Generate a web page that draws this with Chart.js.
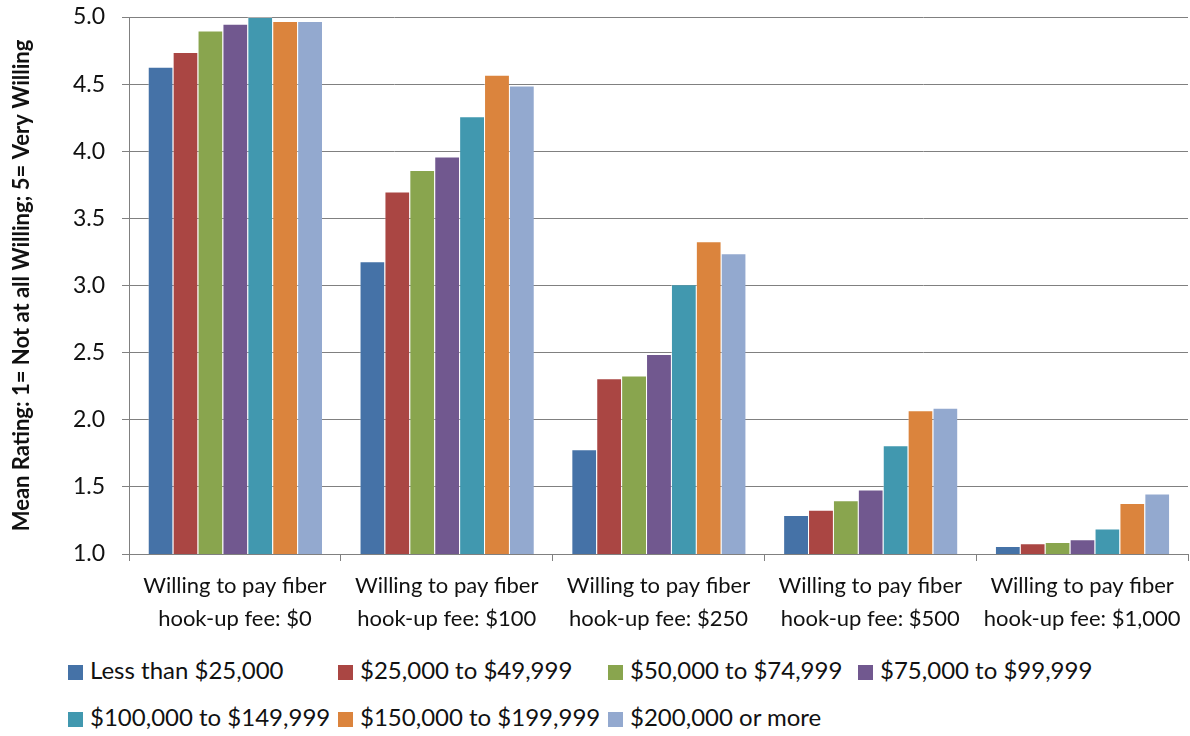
<!DOCTYPE html>
<html>
<head>
<meta charset="utf-8">
<script src="https://cdn.jsdelivr.net/npm/chart.js@4"></script>
<style>
  html, body { margin: 0; padding: 0; background: #fff; }
  #wrap { position: relative; width: 1190px; height: 736px; }
  #chartCanvas { position: absolute; left: 0; top: 0; }
  #legend-div ul { list-style: none; margin: 0; padding: 0; }
  #legend-div li {
    position: absolute; font-family: Lato, sans-serif; font-size: 24px; color: #111;
    white-space: nowrap; line-height: 26px;
  }
  #legend-div li span {
    display: inline-block; width: 15px; height: 15px; margin-right: 7px; vertical-align: -1px;
  }
</style>
</head>
<body>
<div id="wrap">
  <canvas id="chartCanvas" width="1190" height="645"></canvas>
  <div id="legend-div"></div>
</div>
<script>
const categories = [
    ['Willing to pay fiber', 'hook-up fee: $0'],
    ['Willing to pay fiber', 'hook-up fee: $100'],
    ['Willing to pay fiber', 'hook-up fee: $250'],
    ['Willing to pay fiber', 'hook-up fee: $500'],
    ['Willing to pay fiber', 'hook-up fee: $1,000']
];
const incomeGroups = [
    'Less than $25,000', '$25,000 to $49,999', '$50,000 to $74,999', '$75,000 to $99,999',
    '$100,000 to $149,999', '$150,000 to $199,999', '$200,000 or more'
];
const lessThan25k = [4.63, 3.18, 1.78, 1.29, 1.06];
const from25kTo50k = [4.74, 3.70, 2.31, 1.33, 1.08];
const from50kTo75k = [4.90, 3.86, 2.33, 1.40, 1.09];
const from75kTo100k = [4.95, 3.96, 2.49, 1.48, 1.11];
const from100kTo150k = [5.00, 4.26, 3.01, 1.81, 1.19];
const from150kTo200k = [4.97, 4.57, 3.33, 2.07, 1.38];
const from200kUp = [4.97, 4.49, 3.24, 2.09, 1.45];
const yTicks = [1.0, 1.5, 2.0, 2.5, 3.0, 3.5, 4.0, 4.5, 5.0];

const seriesValues = [lessThan25k, from25kTo50k, from50kTo75k, from75kTo100k,
    from100kTo150k, from150kTo200k, from200kUp];
const seriesColors = ['#4572A7', '#AA4643', '#89A54E', '#71588F', '#4198AF', '#DB843D', '#93A9CF'];

// legend slots, Excel-style grid
const legendSpots = [[68, 657], [338, 657], [608, 657], [858, 657], [68, 704], [338, 704], [608, 704]];

let chartData = {
    labels: categories,
    datasets: incomeGroups.map(function (name, i) {
        return {
            label: name,
            data: seriesValues[i],
            backgroundColor: seriesColors[i],
            borderColor: 'rgba(255,255,255,0.35)',
            borderWidth: {top: 1, left: 1, right: 0, bottom: 0},
            barPercentage: 1.0,
            categoryPercentage: 0.823
        };
    })
};

let gridGray = '#808080';

let chartDraw = function () {
    let ctx = document.getElementById('chartCanvas').getContext('2d');

    window.incomeChart = new Chart(ctx, {
        type: 'bar',
        data: chartData,
        options: {
            responsive: false,
            animation: false,
            layout: {padding: {top: 17, right: 2, left: 0, bottom: 0}},
            plugins: {
                legend: {display: false},
                tooltip: {enabled: false}
            },
            scales: {
                x: {
                    offset: true,
                    grid: {
                        offset: true, drawOnChartArea: false, drawTicks: true,
                        tickLength: 7, color: gridGray, lineWidth: 1
                    },
                    border: {color: gridGray, width: 1},
                    ticks: {
                        color: '#111', padding: 8,
                        font: {family: 'Lato', size: 22, lineHeight: 1.5},
                        maxRotation: 0, autoSkip: false
                    },
                    afterFit: function (scale) { scale.height = 91; }
                },
                y: {
                    min: 1, max: 5,
                    afterBuildTicks: function (scale) {
                        scale.ticks = yTicks.map(function (v) { return {value: v}; });
                    },
                    grid: {color: gridGray, lineWidth: 1, tickLength: 7},
                    border: {color: gridGray, width: 1},
                    ticks: {
                        color: '#111', padding: 17,
                        font: {family: 'Lato', size: 23},
                        callback: function (v) { return Number(v).toFixed(1); }
                    },
                    title: {
                        display: true,
                        text: 'Mean Rating: 1= Not at all Willing; 5= Very Willing',
                        color: '#111',
                        font: {family: 'Lato', size: 22, weight: 'bold'},
                        padding: {top: 9, bottom: 0}
                    },
                    afterFit: function (scale) {
                        scale.width = 129;
                        // the top label may hang over the plot edge
                        scale.paddingTop = 0;
                        scale.paddingBottom = 0;
                    }
                }
            }
        }
    });
};

let customLegend = function (chart) {
    let ul = document.createElement('ul');

    chart.data.datasets.forEach(function (ds, index) {
        let spot = legendSpots[index];
        ul.innerHTML += `<li data-index="${index}" style="left:${spot[0]}px;top:${spot[1]}px">` +
            `<span style="background-color:${ds.backgroundColor}"></span>${ds.label}</li>`;
    });

    return ul.outerHTML;
};

chartDraw();
document.getElementById('legend-div').innerHTML = customLegend(window.incomeChart);
</script>
</body>
</html>
